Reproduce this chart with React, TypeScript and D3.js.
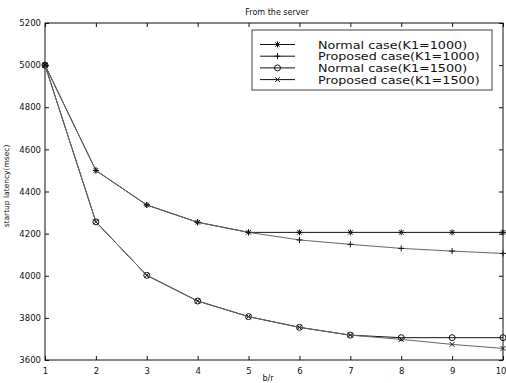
import React, {useEffect, useRef} from "react";
import * as d3 from "d3";

const xValues = [1, 2, 3, 4, 5, 6, 7, 8, 9, 10];
const normal1000 = [5000, 4500, 4336, 4254, 4206, 4206, 4206, 4206, 4206, 4206];
const proposed1000 = [5000, 4500, 4336, 4254, 4206, 4170, 4149, 4130, 4117, 4106];
const normal1500 = [5000, 4256, 4002, 3880, 3806, 3755, 3718, 3706, 3706, 3706];
const proposed1500 = [5000, 4256, 4002, 3880, 3806, 3755, 3718, 3698, 3674, 3655];
const yTicks = [3600, 3800, 4000, 4200, 4400, 4600, 4800, 5000, 5200];
const legendLabels = ["Normal case(K1=1000)", "Proposed case(K1=1000)", "Normal case(K1=1500)", "Proposed case(K1=1500)"];

type Marker = "star" | "plus" | "circle" | "x";

const App: React.FC = () => {
    const svgRef = useRef<SVGSVGElement>(null);
    const width = 506;
    const height = 383;
    const margin = {top: 23, right: 3, bottom: 23, left: 45};

    useEffect(() => {
        const svg = d3.select(svgRef.current);
        svg.selectAll("*").remove();

        const x = d3.scaleLinear().domain([1, 10]).range([margin.left, width - margin.right]);
        const y = d3.scaleLinear().domain([3600, 5200]).range([height - margin.bottom, margin.top]);

        const font = "DejaVu Sans, sans-serif";

        // axes, matlab style: ticks inside on all four sides
        const axisStyle = (g: any) => {
            g.select(".domain").remove();
            g.selectAll("text").attr("font-family", font).attr("font-size", 8.5).attr("fill", "#111");
            g.selectAll("line").attr("stroke", "#111");
        };
        const bottom = svg.append("g")
            .attr("transform", `translate(0,${height - margin.bottom})`)
            .call(d3.axisBottom(x).tickValues(xValues).tickSize(-4).tickPadding(8).tickFormat(d3.format("d")))
            .call(axisStyle);
        // last label sits at the very edge, keep it inside the picture
        bottom.selectAll(".tick text").filter((d: any) => d === 10)
            .attr("text-anchor", "end").attr("dx", 3);
        svg.append("g")
            .attr("transform", `translate(${margin.left},0)`)
            .call(d3.axisLeft(y).tickValues(yTicks).tickSize(-4).tickPadding(4).tickFormat(d3.format("d")))
            .call(axisStyle);
        svg.append("g")
            .attr("transform", `translate(0,${margin.top})`)
            .call(d3.axisTop(x).tickValues(xValues).tickSize(-4).tickFormat(() => ""))
            .call(axisStyle);
        svg.append("g")
            .attr("transform", `translate(${width - margin.right},0)`)
            .call(d3.axisRight(y).tickValues(yTicks).tickSize(-4).tickFormat(() => ""))
            .call(axisStyle);

        svg.append("rect")
            .attr("x", margin.left).attr("y", margin.top)
            .attr("width", width - margin.left - margin.right)
            .attr("height", height - margin.top - margin.bottom)
            .attr("fill", "none").attr("stroke", "#111").attr("stroke-width", 1);

        const drawMarker = (g: any, kind: Marker, cx: number, cy: number, color: string) => {
            const r = 3;
            if (kind === "circle") {
                g.append("circle").attr("cx", cx).attr("cy", cy).attr("r", r)
                    .attr("fill", "none").attr("stroke", color).attr("stroke-width", 1);
                return;
            }
            const segs: number[][] = [];
            if (kind === "plus" || kind === "star") {
                segs.push([cx - r, cy, cx + r, cy], [cx, cy - r, cx, cy + r]);
            }
            if (kind === "x" || kind === "star") {
                const d = kind === "star" ? r * 0.75 : r * 0.8;
                segs.push([cx - d, cy - d, cx + d, cy + d], [cx - d, cy + d, cx + d, cy - d]);
            }
            segs.forEach(s => g.append("line")
                .attr("x1", s[0]).attr("y1", s[1]).attr("x2", s[2]).attr("y2", s[3])
                .attr("stroke", color).attr("stroke-width", 1));
        };

        const series: {values: number[], marker: Marker, color: string}[] = [
            {values: normal1000, marker: "star", color: "#111"},
            {values: normal1500, marker: "circle", color: "#111"},
            {values: proposed1000, marker: "plus", color: "#666"},
            {values: proposed1500, marker: "x", color: "#666"},
        ];

        const line = d3.line<number>()
            .x((d, i) => x(xValues[i]))
            .y(d => y(d));

        series.forEach(s => {
            const g = svg.append("g");
            g.append("path")
                .datum(s.values)
                .attr("fill", "none")
                .attr("stroke", s.color)
                .attr("stroke-width", 1)
                .attr("d", line);
            s.values.forEach((v, i) => drawMarker(g, s.marker, x(xValues[i]), y(v), "#111"));
        });

        // legend
        const lx = 252, ly = 30, lw = 240, lh = 60;
        const legend = svg.append("g");
        legend.append("rect")
            .attr("x", lx).attr("y", ly).attr("width", lw).attr("height", lh)
            .attr("fill", "#fff").attr("stroke", "#444").attr("stroke-width", 1);
        const legendMarkers: Marker[] = ["star", "plus", "circle", "x"];
        legendLabels.forEach((label, i) => {
            const yy = ly + 14.5 + i * 11.7;
            legend.append("line")
                .attr("x1", lx + 8).attr("x2", lx + 43).attr("y1", yy).attr("y2", yy)
                .attr("stroke", "#111").attr("stroke-width", 1);
            drawMarker(legend, legendMarkers[i], lx + 25.5, yy, "#111");
            // the scanned font is wider than DejaVu, stretch it a little
            legend.append("text")
                .attr("transform", `translate(${lx + 66},${yy + 4}) scale(1.14,1)`)
                .attr("font-family", font).attr("font-size", 11.2)
                .attr("fill", "#111")
                .text(label);
        });

        svg.append("text")
            .attr("x", 277).attr("y", 15)
            .attr("text-anchor", "middle")
            .attr("font-family", font).attr("font-size", 8).attr("fill", "#111")
            .text("From the server");

        svg.append("text")
            .attr("x", 268).attr("y", 381)
            .attr("text-anchor", "middle")
            .attr("font-family", font).attr("font-size", 8).attr("fill", "#111")
            .text("b/r");

        svg.append("text")
            .attr("transform", `translate(9,186) rotate(-90)`)
            .attr("text-anchor", "middle")
            .attr("font-family", font).attr("font-size", 7.5).attr("fill", "#111")
            .text("startup latency(msec)");
    }, []);

    return <svg ref={svgRef} width={width} height={height}
                style={{position: "absolute", left: 0, top: 0, background: "#fff"}}></svg>;
};

export default App;
